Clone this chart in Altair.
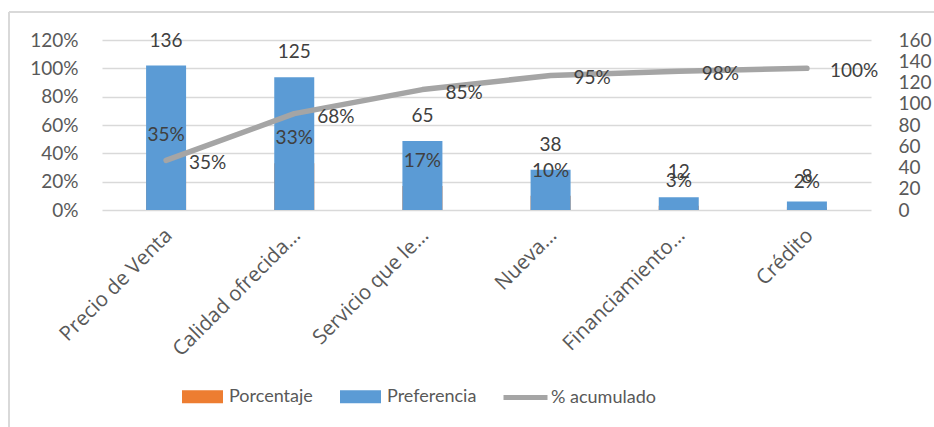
import altair as alt
import pandas as pd

categorias = ["Precio de Venta", "Calidad ofrecida…", "Servicio que le…", "Nueva…", "Financiamiento…", "Crédito"]
preferencia = [136, 125, 65, 38, 12, 8]
porcentaje = [0.35, 0.33, 0.17, 0.10, 0.03, 0.02]
acumulado = [0.35, 0.68, 0.85, 0.95, 0.98, 1.00]
ticks_izq = [0, 0.2, 0.4, 0.6, 0.8, 1.0, 1.2]
ticks_der = [0, 20, 40, 60, 80, 100, 120, 140, 160]

df = pd.DataFrame({"cat": categorias, "pref": preferencia, "pct": porcentaje, "acum": acumulado})

NUM_FONT = "Lato"
CAT_FONT = "Open Sans"
LABEL_COLOR = "#595959"
DATA_COLOR = "#404040"

x = alt.X(
    "cat:N", sort=categorias,
    scale=alt.Scale(paddingInner=0, paddingOuter=0),
    axis=alt.Axis(title=None, labelAngle=315, labelAlign="right", labelBaseline="middle",
                  labelFont=CAT_FONT, labelFontSize=20.5, labelColor=LABEL_COLOR, labelPadding=22,
                  labelOffset=3, ticks=False, domain=False, grid=False, labelLimit=0),
)

yL = alt.Scale(domain=[0, 1.2], nice=False, zero=True)
yR = alt.Scale(domain=[0, 160], nice=False, zero=True)

base = alt.Chart(df)

bars_pct = base.transform_calculate(s="'Porcentaje'").mark_bar(size=40).encode(
    x=x,
    y=alt.Y("pct:Q", scale=yL,
            axis=alt.Axis(orient="left", format=".0%", values=ticks_izq, title=None, grid=True,
                          gridColor="#D9D9D9", gridWidth=1.3, domain=False, ticks=False,
                          labelFont=NUM_FONT, labelFontSize=19, labelColor=LABEL_COLOR,
                          labelPadding=24, labelOverlap=False)),
    fill=alt.Fill("s:N",
                  scale=alt.Scale(domain=["Porcentaje", "Preferencia"], range=["#ED7D31", "#5B9BD5"]),
                  legend=alt.Legend(title=None, orient="none", legendX=80, legendY=336,
                                    direction="horizontal", symbolType="M-1,-0.32H1V0.32H-1Z",
                                    symbolSize=1681, symbolStrokeWidth=0, labelFont=NUM_FONT,
                                    labelFontSize=18, labelColor=LABEL_COLOR, labelOffset=6,
                                    columnPadding=27, symbolOpacity=1)),
)

bars_pref = base.transform_calculate(s="'Preferencia'").mark_bar(size=40).encode(
    x=x,
    y=alt.Y("pref:Q", scale=yR,
            axis=alt.Axis(orient="right", values=ticks_der, title=None, grid=False, domain=False,
                          ticks=False, labelFont=NUM_FONT, labelFontSize=19, labelColor=LABEL_COLOR,
                          labelPadding=27, labelOverlap=False)),
    fill=alt.Fill("s:N"),
)

linea = base.transform_calculate(s="'% acumulado'").mark_line(
    strokeWidth=5.5, strokeCap="round", strokeJoin="round").encode(
    x=x,
    y=alt.Y("acum:Q", scale=yL, axis=None),
    stroke=alt.Stroke("s:N", scale=alt.Scale(domain=["% acumulado"], range=["#A5A5A5"]),
                      legend=alt.Legend(title=None, orient="none", legendX=399, legendY=333,
                                        direction="horizontal", symbolType="stroke",
                                        symbolSize=1936, symbolStrokeWidth=5, labelFont=NUM_FONT,
                                        labelFontSize=18, labelColor=LABEL_COLOR, labelOffset=1)),
)

txt_pref = base.mark_text(dy=-25, font=NUM_FONT, fontSize=19, color=DATA_COLOR).encode(
    x=x, y=alt.Y("pref:Q", scale=yR, axis=None), text=alt.Text("pref:Q"))

txt_pct = base.mark_text(dy=-25, font=NUM_FONT, fontSize=19, color=DATA_COLOR).encode(
    x=x, y=alt.Y("pct:Q", scale=yL, axis=None), text=alt.Text("pct:Q", format=".0%"))

txt_acum = base.mark_text(align="left", dx=23, dy=3, font=NUM_FONT, fontSize=19,
                          color=DATA_COLOR).encode(
    x=x, y=alt.Y("acum:Q", scale=yL, axis=None), text=alt.Text("acum:Q", format=".0%"))

borde_izq = base.mark_rule(color="#D9D9D9", strokeWidth=1.5).encode(
    x=alt.value(-93), y=alt.value(-28), y2=alt.value(400))
borde_sup = base.mark_rule(color="#D9D9D9", strokeWidth=1.5).encode(
    x=alt.value(-93), x2=alt.value(840), y=alt.value(-28))

chart = alt.layer(
    bars_pct, bars_pref, linea, txt_pref, txt_pct, txt_acum, borde_izq, borde_sup
).resolve_scale(y="independent").properties(
    width=769, height=170,
    autosize=alt.AutoSizeParams(type="none"),
    padding={"left": 102, "top": 40, "right": 63, "bottom": 217},
    background="white",
).configure_view(stroke=None)

chart.save("out.html", embed_options={"renderer": "svg", "actions": False})
